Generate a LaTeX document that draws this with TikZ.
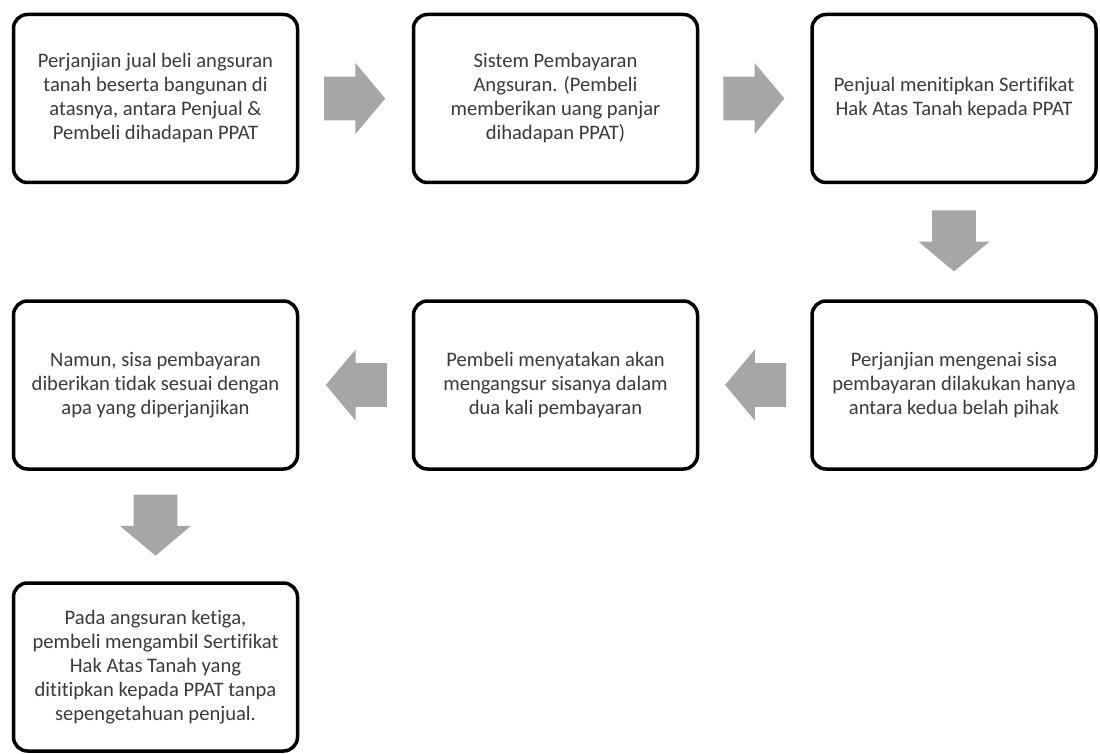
\documentclass[tikz,border=0pt]{standalone}
\usepackage{fontspec}
\setmainfont[Ligatures={NoCommon,NoContextual}]{Carlito}
\usetikzlibrary{shapes.arrows,calc}
\definecolor{textgray}{HTML}{3A3A3A}
\definecolor{arrowgray}{HTML}{A6A6A6}
\tikzset{every picture/.style={x=1pt, y=-1pt}}
\tikzset{stepbox/.style={draw, rounded corners=14pt, line width=3.5pt,
    minimum width=284pt, minimum height=168pt, align=center,
    text=textgray, font=\fontsize{20.6}{24}\selectfont}}
\tikzset{flow/.style={rotate=#1, xshift=-10pt, single arrow, fill=arrowgray, draw=none,
    inner xsep=0pt, inner ysep=21.5pt, minimum width=71pt, minimum height=61pt,
    single arrow head extend=13.5pt, single arrow tip angle=100},
    flow/.default=0}

\begin{document}
\begin{tikzpicture}
\useasboundingbox (0,0) rectangle (1100,754);
\foreach \i/\x/\y/\t in {
    1/155.5/98.5/{Perjanjian jual beli angsuran\\tanah beserta bangunan di\\atasnya, antara Penjual \&\\Pembeli dihadapan PPAT},
    2/555.5/98.5/{Sistem Pembayaran\\Angsuran. (Pembeli\\memberikan uang panjar\\dihadapan PPAT)},
    3/954/98.5/{Penjual menitipkan Sertifikat\\Hak Atas Tanah kepada PPAT},
    4/954/385/{Perjanjian mengenai sisa\\pembayaran dilakukan hanya\\antara kedua belah pihak},
    5/555.5/385/{Pembeli menyatakan akan\\mengangsur sisanya dalam\\dua kali pembayaran},
    6/155.5/385/{Namun, sisa pembayaran\\diberikan tidak sesuai dengan\\apa yang diperjanjikan},
    7/155.5/667/{Pada angsuran ketiga,\\pembeli mengambil Sertifikat\\Hak Atas Tanah yang\\dititipkan kepada PPAT tanpa\\sepengetahuan penjual.}} {
    \node[stepbox] (\i) at (\x,\y) {\t};
}
% gray block arrows between the steps
\node[flow] (a12) at ($(1.east)!0.5!(2.west)$) {};
\node[flow] (a23) at ($(2.east)!0.5!(3.west)$) {};
\node[flow=-90] (a34) at ($(3.south)!0.5!(4.north)$) {};
\node[flow=180] (a45) at ($(4.west)!0.5!(5.east)$) {};
\node[flow=180] (a56) at ($(5.west)!0.5!(6.east)$) {};
\node[flow=-90] (a67) at ($(6.south)!0.5!(7.north)$) {};
\end{tikzpicture}
\end{document}
